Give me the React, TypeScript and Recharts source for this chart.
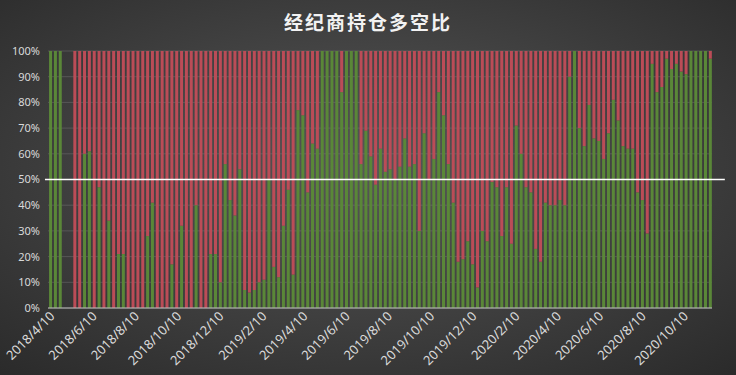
import React from "react";
import {
  BarChart,
  Bar,
  XAxis,
  YAxis,
  CartesianGrid,
  ReferenceLine,
} from "recharts";

// weekly report dates (Tuesdays); two weeks in spring 2018 have no data
const weekDates = [
  "2018/4/10", "2018/4/17", "2018/4/24", "2018/5/1", "2018/5/8", "2018/5/15", "2018/5/22", "2018/5/29",
  "2018/6/5", "2018/6/12", "2018/6/19", "2018/6/26", "2018/7/3", "2018/7/10", "2018/7/17", "2018/7/24",
  "2018/7/31", "2018/8/7", "2018/8/14", "2018/8/21", "2018/8/28", "2018/9/4", "2018/9/11", "2018/9/18",
  "2018/9/25", "2018/10/2", "2018/10/9", "2018/10/16", "2018/10/23", "2018/10/30", "2018/11/6", "2018/11/13",
  "2018/11/20", "2018/11/27", "2018/12/4", "2018/12/11", "2018/12/18", "2018/12/25",
  "2019/1/1", "2019/1/8", "2019/1/15", "2019/1/22", "2019/1/29", "2019/2/5", "2019/2/12", "2019/2/19",
  "2019/2/26", "2019/3/5", "2019/3/12", "2019/3/19", "2019/3/26", "2019/4/2", "2019/4/9", "2019/4/16",
  "2019/4/23", "2019/4/30", "2019/5/7", "2019/5/14", "2019/5/21", "2019/5/28", "2019/6/4", "2019/6/11",
  "2019/6/18", "2019/6/25", "2019/7/2", "2019/7/9", "2019/7/16", "2019/7/23", "2019/7/30", "2019/8/6",
  "2019/8/13", "2019/8/20", "2019/8/27", "2019/9/3", "2019/9/10", "2019/9/17", "2019/9/24", "2019/10/1",
  "2019/10/8", "2019/10/15", "2019/10/22", "2019/10/29", "2019/11/5", "2019/11/12", "2019/11/19", "2019/11/26",
  "2019/12/3", "2019/12/10", "2019/12/17", "2019/12/24", "2019/12/31",
  "2020/1/7", "2020/1/14", "2020/1/21", "2020/1/28", "2020/2/4", "2020/2/11", "2020/2/18", "2020/2/25",
  "2020/3/3", "2020/3/10", "2020/3/17", "2020/3/24", "2020/3/31", "2020/4/7", "2020/4/14", "2020/4/21",
  "2020/4/28", "2020/5/5", "2020/5/12", "2020/5/19", "2020/5/26", "2020/6/2", "2020/6/9", "2020/6/16",
  "2020/6/23", "2020/6/30", "2020/7/7", "2020/7/14", "2020/7/21", "2020/7/28", "2020/8/4", "2020/8/11",
  "2020/8/18", "2020/8/25", "2020/9/1", "2020/9/8", "2020/9/15", "2020/9/22", "2020/9/29", "2020/10/6",
  "2020/10/13", "2020/10/20", "2020/10/27", "2020/11/3", "2020/11/10", "2020/11/17",
];

// long share of broker positions, % (short = the rest)
const longPct: (number | null)[] = [
  100, 100, 100, null, null, 0, 0, 60, 61, 0,
  47, 0, 34, 0, 21, 21, 0, 0, 0, 0,
  28, 41, 0, 0, 0, 17, 0, 32, 0, 0,
  40, 0, 0, 21, 21, 10, 56, 42, 36, 54,
  7, 6, 7, 10, 11, 50, 16, 12, 32, 46,
  13, 77, 75, 45, 64, 62, 100, 100, 100, 100,
  84, 100, 100, 100, 56, 69, 59, 48, 62, 53,
  54, 50, 55, 66, 55, 56, 30, 68, 50, 58,
  84, 75, 56, 41, 18, 19, 26, 17, 8, 30,
  26, 49, 47, 28, 47, 25, 71, 60, 47, 45,
  23, 18, 41, 40, 40, 42, 40, 90, 100, 70,
  63, 79, 66, 65, 58, 68, 81, 73, 63, 62,
  62, 45, 42, 29, 95, 84, 86, 97, 93, 95,
  92, 91, 100, 100, 100, 100, 97,
];

const tickLabels = [
  "2018/4/10", "2018/6/10", "2018/8/10", "2018/10/10", "2018/12/10",
  "2019/2/10", "2019/4/10", "2019/6/10", "2019/8/10", "2019/10/10", "2019/12/10",
  "2020/2/10", "2020/4/10", "2020/6/10", "2020/8/10", "2020/10/10",
];

const yTicks = [0, 10, 20, 30, 40, 50, 60, 70, 80, 90, 100];

const toDay = (s: string) => {
  const [y, m, d] = s.split("/").map(Number);
  return Date.UTC(y, m - 1, d) / 86400000;
};

const fmtDay = (day: number) => {
  const dt = new Date(day * 86400000);
  return `${dt.getUTCFullYear()}/${dt.getUTCMonth() + 1}/${dt.getUTCDate()}`;
};

const data = weekDates
  .map((d, i) => ({
    day: toDay(d),
    long: longPct[i],
    short: longPct[i] == null ? null : 100 - (longPct[i] as number),
  }))
  .filter((r) => r.long != null);

const START = toDay(weekDates[0]);
const X_DOMAIN = [START - 3.6, START + 954.5];

const GREEN = "#5a8738";
const RED = "#bb4c57";
const LABEL = "#d9d9d9";
const FONT = "'Noto Sans', 'Noto Sans CJK SC', sans-serif";

function DateTick(props: any) {
  const { x, payload } = props;
  return (
    <g transform={`translate(${x + 5},${317})`}>
      <text
        x={0}
        y={0}
        textAnchor="end"
        transform="rotate(-45)"
        fill={LABEL}
        fontSize={13}
        fontFamily={FONT}
      >
        {fmtDay(payload.value)}
      </text>
    </g>
  );
}

export default function App() {
  return (
    <div
      style={{
        position: "absolute",
        left: 0,
        top: 0,
        width: 736,
        height: 375,
        background:
          "radial-gradient(ellipse 75% 75% at 50% 45%, #575757 0%, #2a2a2a 100%)",
        fontFamily: FONT,
      }}
    >
      <div
        style={{
          position: "absolute",
          top: 8,
          left: 0,
          width: 736,
          textAlign: "center",
          color: "#f2f2f2",
          fontSize: 19,
          fontWeight: 700,
          letterSpacing: 2,
          fontFamily: "'Noto Sans CJK SC', sans-serif",
        }}
      >
        经纪商持仓多空比
      </div>
      <BarChart
        width={736}
        height={375}
        data={data}
        margin={{ top: 51, right: 24, bottom: 0, left: 0 }}
        barCategoryGap={0}
      >
        <CartesianGrid
          vertical={false}
          stroke="#8a8a8a"
          strokeOpacity={0.35}
        />
        <XAxis
          dataKey="day"
          type="number"
          domain={X_DOMAIN}
          allowDataOverflow
          ticks={tickLabels.map(toDay)}
          tick={<DateTick />}
          tickLine={false}
          axisLine={{ stroke: "#bfbfbf" }}
          height={67}
          interval={0}
        />
        <YAxis
          type="number"
          domain={[0, 100]}
          ticks={yTicks}
          tickFormatter={(v) => `${v}%`}
          tick={{ fill: LABEL, fontSize: 11, fontFamily: FONT }}
          axisLine={false}
          tickLine={false}
          width={48}
          interval={0}
        />
        <Bar
          dataKey="long"
          stackId="a"
          fill={GREEN}
          barSize={3}
          isAnimationActive={false}
        />
        <Bar
          dataKey="short"
          stackId="a"
          fill={RED}
          barSize={3}
          isAnimationActive={false}
        />
        <ReferenceLine
          segment={[
            { x: START - 8, y: 50 },
            { x: START + 973, y: 50 },
          ]}
          stroke="#ffffff"
          strokeWidth={1.5}
          ifOverflow="visible"
        />
      </BarChart>
    </div>
  );
}
